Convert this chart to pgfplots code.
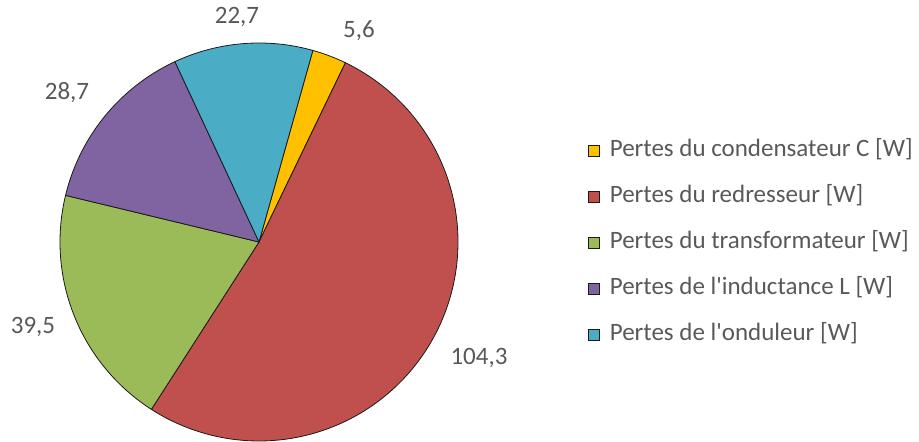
\documentclass[border=0pt]{standalone}
\usepackage{pgfplots}
\usepackage{pgfplotstable}
\pgfplotsset{compat=1.18}
\usepackage{fontspec}
\setmainfont{Carlito}
\definecolor{cY}{HTML}{FFC000}
\definecolor{cR}{HTML}{C0504D}
\definecolor{cG}{HTML}{9BBB59}
\definecolor{cP}{HTML}{8064A2}
\definecolor{cB}{HTML}{4BACC6}
\definecolor{txt}{HTML}{595959}
\definecolor{edge}{HTML}{1A1A1A}
\pgfplotstableread{
name value
cond 5.6
redr 104.3
trans 39.5
induc 28.7
ond 22.7
}\pielosses
\begin{document}
\begin{tikzpicture}
\pgfplotstablegetelem{0}{value}\of\pielosses \let\vA\pgfplotsretval
\pgfplotstablegetelem{1}{value}\of\pielosses \let\vB\pgfplotsretval
\pgfplotstablegetelem{2}{value}\of\pielosses \let\vC\pgfplotsretval
\pgfplotstablegetelem{3}{value}\of\pielosses \let\vD\pgfplotsretval
\pgfplotstablegetelem{4}{value}\of\pielosses \let\vE\pgfplotsretval
\pgfmathsetmacro\tot{\vA+\vB+\vC+\vD+\vE}
\pgfmathsetmacro\aO{74.3}
\pgfmathsetmacro\aA{\aO-360*(\vA/\tot)}
\pgfmathsetmacro\aB{\aA-360*(\vB/\tot)}
\pgfmathsetmacro\aC{\aB-360*(\vC/\tot)}
\pgfmathsetmacro\aD{\aC-360*(\vD/\tot)}
\pgfmathsetmacro\aE{\aD-360*(\vE/\tot)}
\begin{axis}[
  width=919bp, height=442bp, scale only axis,
  xmin=0, xmax=919, ymin=0, ymax=442,
  axis lines=none, clip=false,
  area legend,
  legend image code/.code={\draw[#1, draw=edge, line width=0.6pt] (0bp,-5.5bp) rectangle (11bp,5.5bp);},
  legend style={at={(axis cs:588,302)}, anchor=north west, draw=none, fill=none,
    font=\fontsize{25bp}{30bp}\selectfont, text=txt,
    row sep=24bp, inner sep=0pt,
    nodes={inner sep=0pt, text height=16bp, text depth=6bp, anchor=west},
    /tikz/every odd column/.append style={column sep=10bp}},
  legend cell align=left,
]
\path (axis cs:0,0) rectangle (axis cs:919,442);
\addplot[fill=cY, draw=edge, line width=0.8pt, domain=\aA:\aO, samples=30, variable=\t]
  ({259+199*cos(\t)},{200+199*sin(\t)}) -- (axis cs:259,200) -- cycle;
\addlegendentry{Pertes du condensateur C [W]}
\addplot[fill=cR, draw=edge, line width=0.8pt, domain=\aB:\aA, samples=150, variable=\t]
  ({259+199*cos(\t)},{200+199*sin(\t)}) -- (axis cs:259,200) -- cycle;
\addlegendentry{Pertes du redresseur [W]}
\addplot[fill=cG, draw=edge, line width=0.8pt, domain=\aC:\aB, samples=70, variable=\t]
  ({259+199*cos(\t)},{200+199*sin(\t)}) -- (axis cs:259,200) -- cycle;
\addlegendentry{Pertes du transformateur [W]}
\addplot[fill=cP, draw=edge, line width=0.8pt, domain=\aD:\aC, samples=60, variable=\t]
  ({259+199*cos(\t)},{200+199*sin(\t)}) -- (axis cs:259,200) -- cycle;
\addlegendentry{Pertes de l\textquotesingle inductance L [W]}
\addplot[fill=cB, draw=edge, line width=0.8pt, domain=\aE:\aD, samples=50, variable=\t]
  ({259+199*cos(\t)},{200+199*sin(\t)}) -- (axis cs:259,200) -- cycle;
\addlegendentry{Pertes de l\textquotesingle onduleur [W]}
\begin{scope}[every node/.style={font=\fontsize{25bp}{30bp}\selectfont, text=txt, inner sep=0pt}]
\node at (axis cs:237,425) {22,7};
\node at (axis cs:359,411) {5,6};
\node at (axis cs:67,349) {28,7};
\node at (axis cs:33,115) {39,5};
\node at (axis cs:479,84) {104,3};
\end{scope}
\end{axis}
\end{tikzpicture}
\end{document}
